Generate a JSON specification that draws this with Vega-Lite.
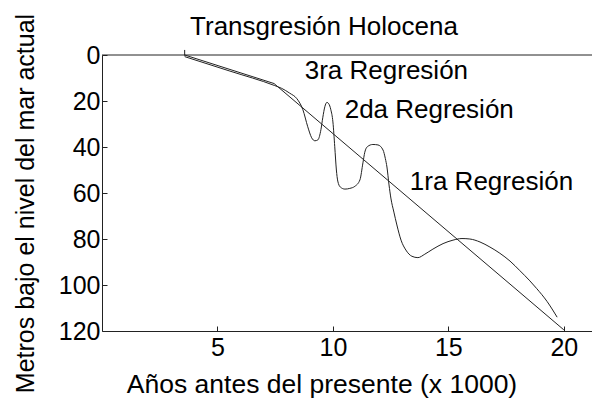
{
  "$schema": "https://vega.github.io/schema/vega-lite/v6.json",
  "width": 490,
  "height": 276,
  "autosize": {"type": "none"},
  "padding": {"left": 102, "top": 55, "right": 0, "bottom": 70},
  "background": "white",
  "config": {
    "view": {"stroke": null},
    "font": "Liberation Sans",
    "axis": {
      "domainColor": "#222",
      "tickColor": "#222",
      "labelColor": "black",
      "titleColor": "black",
      "labelFont": "Liberation Sans",
      "titleFont": "Liberation Sans",
      "labelFontSize": 25,
      "titleFontSize": 26,
      "titleFontWeight": "normal",
      "grid": false,
      "tickSize": -5
    }
  },
  "title": {
    "text": "Transgresión Holocena",
    "font": "Liberation Sans",
    "fontSize": 26,
    "fontWeight": "normal",
    "color": "black",
    "anchor": "middle",
    "baseline": "alphabetic",
    "dx": -23,
    "offset": -47.5
  },
  "datasets": {
    "frame": [{"y": 0}],
    "tendencia": [
      {"series": "tendencia", "x": 3.58, "y": 0.0},
      {"series": "tendencia", "x": 7.45, "y": 12.4},
      {"series": "tendencia", "x": 20.0, "y": 119.5}
    ],
    "curves": [
      {"series": "marca", "x": 3.58, "y": -2.2},
      {"series": "marca", "x": 3.58, "y": 0.3},
      {"series": "oscilacion", "x": 3.58, "y": 0.7},
      {"series": "oscilacion", "x": 5.54, "y": 7.0},
      {"series": "oscilacion", "x": 7.48, "y": 13.3},
      {"series": "oscilacion", "x": 7.78, "y": 14.5},
      {"series": "oscilacion", "x": 8.13, "y": 16.6},
      {"series": "oscilacion", "x": 8.44, "y": 19.0},
      {"series": "oscilacion", "x": 8.70, "y": 23.8},
      {"series": "oscilacion", "x": 8.91, "y": 31.2},
      {"series": "oscilacion", "x": 9.08, "y": 36.0},
      {"series": "oscilacion", "x": 9.22, "y": 37.3},
      {"series": "oscilacion", "x": 9.35, "y": 36.9},
      {"series": "oscilacion", "x": 9.48, "y": 32.5},
      {"series": "oscilacion", "x": 9.56, "y": 27.3},
      {"series": "oscilacion", "x": 9.65, "y": 22.5},
      {"series": "oscilacion", "x": 9.74, "y": 20.6},
      {"series": "oscilacion", "x": 9.82, "y": 21.2},
      {"series": "oscilacion", "x": 9.91, "y": 23.8},
      {"series": "oscilacion", "x": 10.0, "y": 29.1},
      {"series": "oscilacion", "x": 10.08, "y": 39.9},
      {"series": "oscilacion", "x": 10.15, "y": 50.0},
      {"series": "oscilacion", "x": 10.21, "y": 54.8},
      {"series": "oscilacion", "x": 10.32, "y": 57.4},
      {"series": "oscilacion", "x": 10.52, "y": 58.3},
      {"series": "oscilacion", "x": 10.73, "y": 58.0},
      {"series": "oscilacion", "x": 10.95, "y": 57.1},
      {"series": "oscilacion", "x": 11.17, "y": 54.3},
      {"series": "oscilacion", "x": 11.30, "y": 46.9},
      {"series": "oscilacion", "x": 11.38, "y": 42.3},
      {"series": "oscilacion", "x": 11.50, "y": 39.8},
      {"series": "oscilacion", "x": 11.73, "y": 38.9},
      {"series": "oscilacion", "x": 11.95, "y": 39.1},
      {"series": "oscilacion", "x": 12.17, "y": 41.3},
      {"series": "oscilacion", "x": 12.27, "y": 45.0},
      {"series": "oscilacion", "x": 12.34, "y": 48.7},
      {"series": "oscilacion", "x": 12.43, "y": 56.5},
      {"series": "oscilacion", "x": 12.51, "y": 62.2},
      {"series": "oscilacion", "x": 12.64, "y": 68.3},
      {"series": "oscilacion", "x": 12.77, "y": 73.9},
      {"series": "oscilacion", "x": 12.95, "y": 80.5},
      {"series": "oscilacion", "x": 13.16, "y": 84.8},
      {"series": "oscilacion", "x": 13.42, "y": 87.5},
      {"series": "oscilacion", "x": 13.68, "y": 88.1},
      {"series": "oscilacion", "x": 13.98, "y": 86.6},
      {"series": "oscilacion", "x": 14.33, "y": 84.4},
      {"series": "oscilacion", "x": 14.77, "y": 82.0},
      {"series": "oscilacion", "x": 15.2, "y": 80.5},
      {"series": "oscilacion", "x": 15.59, "y": 79.8},
      {"series": "oscilacion", "x": 15.93, "y": 80.0},
      {"series": "oscilacion", "x": 16.37, "y": 81.3},
      {"series": "oscilacion", "x": 16.80, "y": 83.5},
      {"series": "oscilacion", "x": 17.23, "y": 86.2},
      {"series": "oscilacion", "x": 17.67, "y": 89.6},
      {"series": "oscilacion", "x": 18.10, "y": 93.8},
      {"series": "oscilacion", "x": 18.53, "y": 98.2},
      {"series": "oscilacion", "x": 18.83, "y": 101.6},
      {"series": "oscilacion", "x": 19.27, "y": 107.1},
      {"series": "oscilacion", "x": 19.71, "y": 114.0}
    ],
    "labels": [
      {"x": 8.78, "y": 10.5, "text": "3ra Regresión"},
      {"x": 10.51, "y": 27.4, "text": "2da Regresión"},
      {"x": 13.33, "y": 58.7, "text": "1ra Regresión"}
    ]
  },
  "layer": [
    {
      "data": {"name": "curves"},
      "mark": {"type": "line", "color": "#222", "strokeWidth": 1, "interpolate": "monotone", "clip": false},
      "encoding": {
        "x": {
          "field": "x", "type": "quantitative",
          "scale": {"domain": [0, 21.22], "nice": false, "zero": false},
          "title": "Años antes del presente (x 1000)",
          "axis": {
            "values": [5, 10, 15, 20],
            "labelPadding": 9,
            "titleFontSize": 26.5,
            "titleX": 219.5,
            "titleY": 61,
            "titleBaseline": "alphabetic"
          }
        },
        "y": {
          "field": "y", "type": "quantitative",
          "scale": {"domain": [0, 120], "reverse": true, "nice": false},
          "title": "Metros bajo el nivel del mar actual",
          "axis": {
            "values": [0, 20, 40, 60, 80, 100, 120],
            "labelPadding": 7,
            "titleFontSize": 25,
            "titleAngle": 270,
            "titleX": -69,
            "titleY": 148,
            "titleAlign": "center",
            "titleBaseline": "alphabetic"
          }
        },
        "detail": {"field": "series", "type": "nominal"},
        "order": {"field": "x", "type": "quantitative"}
      }
    },
    {
      "data": {"name": "tendencia"},
      "mark": {"type": "line", "color": "#222", "strokeWidth": 1, "interpolate": "linear", "clip": false},
      "encoding": {
        "x": {"field": "x", "type": "quantitative", "title": "Años antes del presente (x 1000)"},
        "y": {"field": "y", "type": "quantitative", "title": "Metros bajo el nivel del mar actual"},
        "order": {"field": "x", "type": "quantitative"}
      }
    },
    {
      "data": {"name": "frame"},
      "mark": {"type": "rule", "color": "#222", "strokeWidth": 1},
      "encoding": {
        "y": {"field": "y", "type": "quantitative", "title": "Metros bajo el nivel del mar actual"}
      }
    },
    {
      "data": {"name": "labels"},
      "mark": {"type": "text", "align": "left", "baseline": "alphabetic", "font": "Liberation Sans", "fontSize": 26, "color": "black"},
      "encoding": {
        "x": {"field": "x", "type": "quantitative", "title": "Años antes del presente (x 1000)"},
        "y": {"field": "y", "type": "quantitative", "title": "Metros bajo el nivel del mar actual"},
        "text": {"field": "text", "type": "nominal"}
      }
    }
  ]
}
